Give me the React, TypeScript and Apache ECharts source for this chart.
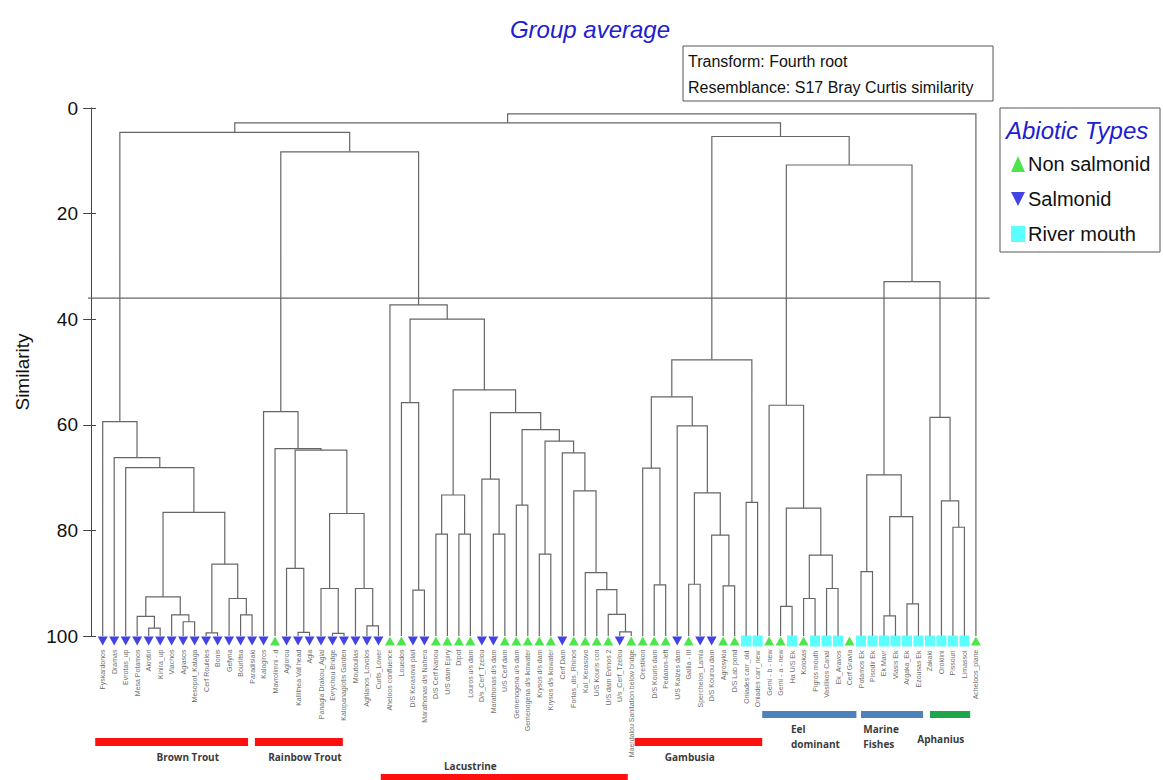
import React, { useEffect, useRef } from "react";
import * as echarts from "echarts";

// ---------------- data ----------------
const leafNames: string[] = [
  "Fyskardonos", "Dramas", "Evrotas_up", "Mesa Potamos", "Akrotiri", "Kinira_up", "Vlachos",
  "Agiasos", "Mesopot_Kataga", "Cerf Rouleles", "Bonis", "Gefyria", "Bourlitsa", "Paradisiaki",
  "Kalogiros", "Mavrolimni - d", "Agiorou", "Kallithea Vat head", "Agia", "Panagia Drakou_Agial",
  "Evrychou Bridge", "Kalopanagiotis Garden", "Moutoullas", "Aghlanos_Lovolos", "Curts_Lower",
  "Aheloos confluence", "Louedos", "D/S Kerasova plait", "Marathonas d/s Nahera", "D/S Cerf Nanou",
  "U/S dam Epiry", "Dipot", "Louros u/s dam", "D/s_Cerf_Tzelou", "Marathonas d/s dam", "U/S Cerf dam",
  "Gemenogena u/s dam", "Gemenogena d/s lkowater", "Krysos d/s dam", "Krysos d/s lkowater", "Cerf Dam",
  "Fortas_dis_Rhinos", "Kal_Kerasovo", "U/S Kouris con", "U/S dam Evinos 2", "U/s_Cerf_Tzelou",
  "Maerdalou Sanitation below bridge", "Orestikon", "D/S Kouris dam", "Pedanos-left", "U/S Kalzes dam",
  "Gallia - III", "Spercheios_Lamia", "D/S Kourou dam", "Agrosykia", "D/S Lab pond", "Oniades carr_old",
  "Oniades carr_new", "Gerni - b - new", "Gerni - a - new", "Ha U/S Ek", "Kolokas", "Pigros mouth",
  "Vasilikos Canal", "Ek_Aravos", "Cerf Gravia", "Potamos Ek", "Pisodir Ek", "Ek Mavr", "Vlasis Ek",
  "Argaka_Ek", "Ezousas Ek", "Zakaki", "Oroklini", "Pissouri", "Limassol", "Acheloos_plane",
];

// N = Non salmonid, S = Salmonid, R = River mouth
const leafTypes: string[] = (
  "SSSSSSSSSSSSSSS" + "N" + "SSSSSSSSS" + "NN" + "SS" + "NNNN" + "SS" + "NNNNN" + "S" + "NNNN" +
  "S" + "NNNN" + "S" + "N" + "SS" + "NN" + "RR" + "NN" + "R" + "N" + "RRR" + "N" + "RRRRRRRRRR" + "N"
).split("");

// merges: [id, childA, childB, similarity]; numbers are leaf indices (1-based)
const merges: [string, number | string, number | string, number][] = [
  // Brown trout
  ["b1", 5, 6, 98.5], ["b2", 4, "b1", 96.3], ["b3", 8, 9, 97.3], ["b4", 7, "b3", 96.0],
  ["b5", "b2", "b4", 92.6], ["b6", 10, 11, 99.4], ["b7", 13, 14, 96.0], ["b8", 12, "b7", 92.9],
  ["b9", "b6", "b8", 86.4], ["b10", "b5", "b9", 76.6], ["b11", 3, "b10", 68.1],
  ["b12", 2, "b11", 66.2], ["b13", 1, "b12", 59.4],
  // Rainbow trout
  ["r1", 18, 19, 99.3], ["r2", 17, "r1", 87.2], ["r3", 21, 22, 99.5], ["r4", 20, "r3", 91.0],
  ["r5", 24, 25, 98.1], ["r6", 23, "r5", 91.0], ["r7", "r4", "r6", 76.8], ["r8", "r2", "r7", 64.8],
  ["r9", 16, "r8", 64.5], ["r10", 15, "r9", 57.5],
  // Lacustrine
  ["l1", 28, 29, 91.3], ["l2", 27, "l1", 55.8], ["l3", 30, 31, 80.7], ["l4", 32, 33, 80.7],
  ["l5", "l3", "l4", 73.3], ["l6", 35, 36, 80.7], ["l7", 34, "l6", 70.3], ["l8", 37, 38, 75.2],
  ["l9", 39, 40, 84.5], ["l10", 46, 47, 99.2], ["l11", 45, "l10", 95.9], ["l12", 44, "l11", 91.2],
  ["l13", 43, "l12", 88.0], ["l14", 42, "l13", 72.5], ["l15", 41, "l14", 65.3],
  ["l16", "l9", "l15", 63.1], ["l17", "l8", "l16", 60.9], ["l18", "l7", "l17", 57.7],
  ["l19", "l5", "l18", 53.4], ["l20", "l2", "l19", 40.0], ["l21", 26, "l20", 37.3],
  ["u1", "r10", "l21", 8.3], ["u2", "b13", "u1", 4.6],
  // Gambusia
  ["g1", 49, 50, 90.3], ["g2", 48, "g1", 68.2], ["g3", 52, 53, 90.2], ["g4", 55, 56, 90.5],
  ["g5", 54, "g4", 80.9], ["g6", "g3", "g5", 72.9], ["g7", 51, "g6", 60.2], ["g8", "g2", "g7", 54.7],
  ["g9", 57, 58, 74.7], ["g10", "g8", "g9", 47.7],
  // Eel dominant
  ["e1", 60, 61, 94.4], ["e2", 62, 63, 92.9], ["e3", 64, 65, 91.0], ["e4", "e2", "e3", 84.7],
  ["e5", "e1", "e4", 75.8], ["e6", 59, "e5", 56.3],
  // Marine fishes
  ["m1", 67, 68, 87.8], ["m2", 69, 70, 96.2], ["m3", 71, 72, 93.9], ["m4", "m2", "m3", 77.4],
  ["m5", "m1", "m4", 69.5],
  // Aphanius
  ["a1", 75, 76, 79.4], ["a2", 74, "a1", 74.4], ["a3", 73, "a2", 58.6], ["a4", "m5", "a3", 32.9],
  ["e7", "e6", "a4", 10.8], ["g11", "g10", "e7", 5.4], ["t1", "u2", "g11", 2.8], ["root", "t1", 77, 1.1],
];

const cutSimilarity = 36;
const yTicks = [0, 20, 40, 60, 80, 100];

const groupNames = ["Brown Trout", "Rainbow Trout", "Lacustrine", "Gambusia", "Eel\ndominant", "Marine\nFishes", "Aphanius"];
const groupStart = [0.35, 14.25, 25.2, 47.3, 58.4, 67.0, 73.0];
const groupEnd = [13.65, 21.9, 46.7, 58.4, 66.6, 72.4, 76.5];

// ---------------- styles / layout ----------------
const groupColors = ["#ff1010", "#ff1010", "#ff1010", "#ff1010", "#4f81bd", "#4f81bd", "#1fa64a"];
const groupLayout = [
  { barDy: 102, barH: 8, labelAt: 8.4, textDy: 113, align: "center" },
  { barDy: 102, barH: 8, labelAt: 18.6, textDy: 113, align: "center" },
  { barDy: 138, barH: 8, labelAt: 33.0, textDy: 122.5, align: "center" },
  { barDy: 102, barH: 8, labelAt: 52.1, textDy: 113, align: "center" },
  { barDy: 75, barH: 7, labelAt: 60.9, textDy: 85, align: "left" },
  { barDy: 75, barH: 7, labelAt: 67.2, textDy: 85, align: "left" },
  { barDy: 75, barH: 7, labelAt: 71.9, textDy: 95.5, align: "left" },
];
const typeStyle: Record<string, { name: string; symbol: string; size: number[]; color: string }> = {
  N: { name: "Non salmonid", symbol: "triangle", size: [10, 9], color: "#1fe01f" },
  S: { name: "Salmonid", symbol: "path://M0,0L10,0L5,9Z", size: [10, 9], color: "#1414dc" },
  R: { name: "River mouth", symbol: "rect", size: [10, 11], color: "#33ffff" },
};

export default function App() {
  const ref = useRef<HTMLDivElement>(null);
  useEffect(() => {
    document.body.style.margin = "0";
    if (!ref.current) return;
    const chart = echarts.init(ref.current, null, { renderer: "svg" });

    const nodePos: Record<string, number[]> = {};
    const pos = (c: number | string) => (typeof c === "number" ? [c, 100] : nodePos[c]);
    const segs = merges.map(([id, a, b, s]) => {
      const pa = pos(a);
      const pb = pos(b);
      nodePos[id] = [(pa[0] + pb[0]) / 2, s];
      return { coords: [[pa[0], pa[1]], [pa[0], s], [pb[0], s], [pb[0], pb[1]]] };
    });

    const xMin = -0.28;
    const xMax = 78.2;

    const scatter = ["N", "S", "R"].map((code) => {
      const st = typeStyle[code];
      return {
        type: "scatter",
        name: st.name,
        symbol: st.symbol,
        symbolSize: st.size,
        symbolOffset: [0, 5],
        itemStyle: { color: st.color },
        clip: false,
        z: 5,
        data: leafNames
          .map((n, i) => ({ value: [i + 1, 100], name: n, t: leafTypes[i] }))
          .filter((d) => d.t === code)
          .map((d) => ({ value: d.value, name: d.name })),
        label: {
          show: true,
          formatter: "{b}",
          position: "bottom",
          distance: 4,
          rotate: 90,
          align: "right",
          verticalAlign: "middle",
          fontSize: 7,
          color: "#444",
          fontFamily: "Liberation Sans, Arial, sans-serif",
        },
      };
    });

    chart.setOption({
      animation: false,
      title: {
        text: "Group average",
        left: 585,
        textAlign: "center",
        top: 12,
        textStyle: { color: "#2020d0", fontStyle: "italic", fontWeight: "normal", fontSize: 24, fontFamily: "Liberation Sans, Arial" },
      },
      grid: { left: 88, top: 108, width: 901.7, height: 528 },
      xAxis: { type: "value", min: xMin, max: xMax, show: false },
      yAxis: [
        {
          type: "value", inverse: true, min: 0, max: 100, interval: 20, position: "left",
          axisLine: { show: true, lineStyle: { color: "#444", width: 1 } },
          axisTick: { show: true, length: 8, lineStyle: { color: "#444" } },
          axisLabel: { fontSize: 19, color: "#111", margin: 10, fontFamily: "Liberation Sans, Arial", customValues: yTicks },
          splitLine: { show: false },
          name: "Similarity", nameLocation: "middle", nameGap: 56,
          nameTextStyle: { fontSize: 19, color: "#111", fontFamily: "Liberation Sans, Arial" },
        },
        {
          type: "value", inverse: true, min: 0, max: 100, interval: 20, position: "left",
          axisLine: { show: false },
          axisTick: { show: true, inside: true, length: 8, lineStyle: { color: "#444" } },
          axisLabel: { show: false },
          splitLine: { show: false },
        },
      ],
      legend: {
        orient: "vertical",
        left: 1006,
        top: 149,
        itemGap: 15,
        itemWidth: 14,
        itemHeight: 16,
        selectedMode: false,
        textStyle: { fontSize: 20, color: "#111", fontFamily: "Liberation Sans, Arial", padding: [0, 0, 0, -2] },
        data: [
          { name: "Non salmonid", icon: "triangle" },
          { name: "Salmonid", icon: "path://M0,0L10,0L5,10Z" },
          { name: "River mouth", icon: "rect" },
        ],
      },
      graphic: [
        { type: "rect", shape: { x: 683, y: 46, width: 310, height: 55 }, style: { fill: "#fff", stroke: "#555", lineWidth: 1 } },
        { type: "text", style: { text: "Transform: Fourth root", x: 688, y: 61, fill: "#111", font: '16px "Liberation Sans", Arial', verticalAlign: "middle" } },
        { type: "text", style: { text: "Resemblance: S17 Bray Curtis similarity", x: 688, y: 87, fill: "#111", font: '16px "Liberation Sans", Arial', verticalAlign: "middle" } },
        { type: "rect", shape: { x: 1000, y: 108, width: 160, height: 144 }, style: { fill: "none", stroke: "#555", lineWidth: 1 } },
        { type: "text", style: { text: "Abiotic Types", x: 1006, y: 130, fill: "#2020d0", font: 'italic 24px "Liberation Sans", Arial', verticalAlign: "middle" } },
      ],
      series: [
        {
          type: "lines",
          coordinateSystem: "cartesian2d",
          polyline: true,
          silent: true,
          lineStyle: { color: "#666", width: 1.2, opacity: 1 },
          data: segs,
          z: 3,
        },
        {
          type: "line",
          silent: true,
          symbol: "none",
          lineStyle: { color: "#666", width: 1.2 },
          data: [[xMin, cutSimilarity], [xMax, cutSimilarity]],
          z: 2,
        },
        ...scatter,
        {
          type: "custom",
          clip: false,
          silent: true,
          data: groupNames.map((_, i) => [i]),
          renderItem: (_p: any, api: any) => {
            const i = api.value(0) as number;
            const L = groupLayout[i];
            const base = api.coord([0, 100])[1];
            const x0 = api.coord([groupStart[i], 100])[0];
            const x1 = api.coord([groupEnd[i], 100])[0];
            const lx = api.coord([L.labelAt, 100])[0];
            return {
              type: "group",
              children: [
                { type: "rect", shape: { x: x0, y: base + L.barDy, width: x1 - x0, height: L.barH }, style: { fill: groupColors[i] } },
                {
                  type: "text",
                  style: {
                    text: groupNames[i], x: lx, y: base + L.textDy, fill: "#3c3c3c",
                    font: 'bold 10px "Open Sans", sans-serif', align: L.align, verticalAlign: "top", lineHeight: 15,
                  },
                },
              ],
            };
          },
        },
      ],
    });
    return () => chart.dispose();
  }, []);
  return <div ref={ref} style={{ width: 1163, height: 780 }} />;
}
